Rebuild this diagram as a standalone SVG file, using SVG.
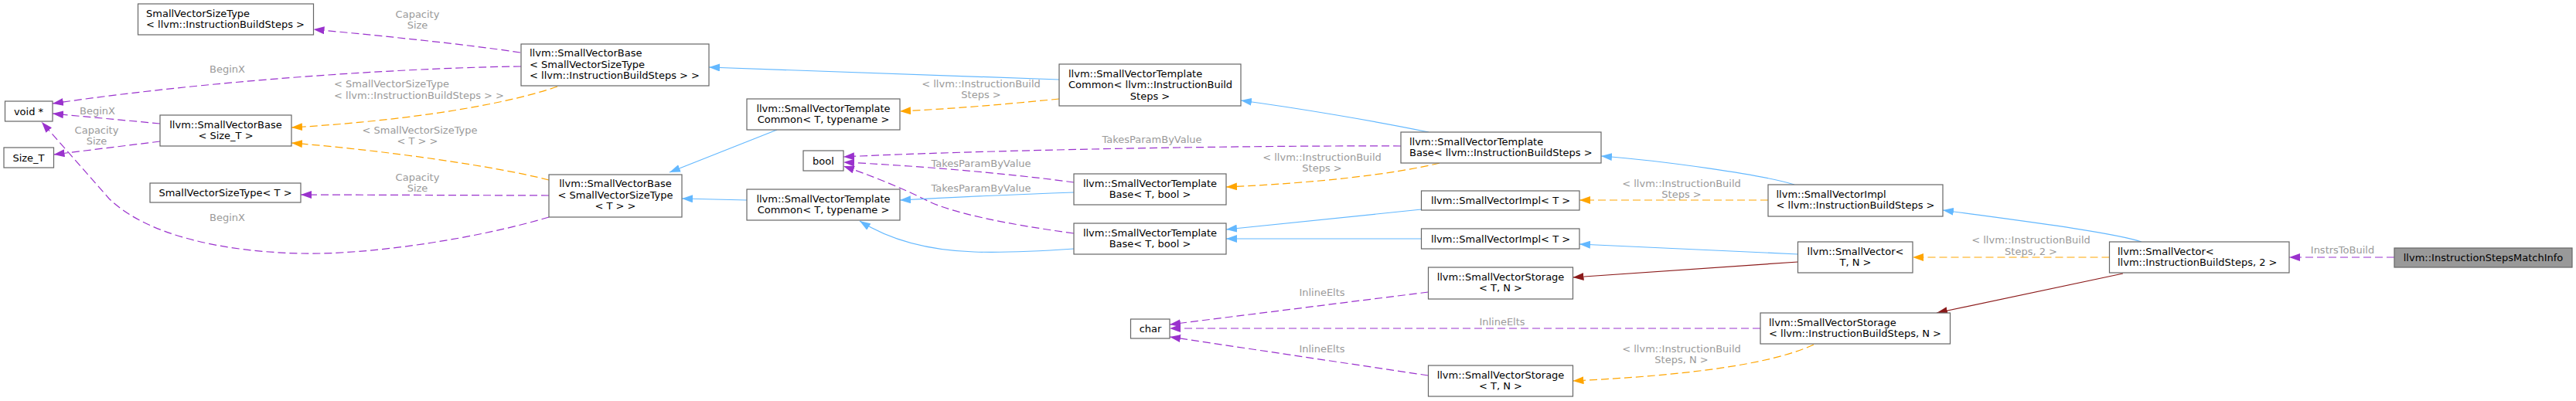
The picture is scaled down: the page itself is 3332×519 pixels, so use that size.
<svg xmlns="http://www.w3.org/2000/svg" width="3332" height="519" viewBox="0 0 3332 519">
<style>
.node rect{fill:#ffffff;stroke:#666666;stroke-width:1.2}
.node text{font-family:"DejaVu Sans",sans-serif;font-size:13px;fill:#000000}
#n_match rect{fill:#999999}
.c{text-anchor:middle}
.lbl{font-family:"DejaVu Sans",sans-serif;font-size:13px;fill:#9a9a9a;text-anchor:middle}
.lbl.l{text-anchor:start}
.e{fill:none;stroke-width:1.2}
.b{stroke:#63b8ff}
.o{stroke:#ffa500;stroke-dasharray:10,5}
.p{stroke:#9a32cd;stroke-dasharray:10,5}
.r{stroke:#8b1a1a}
.b{marker-end:url(#ab)}
.o{marker-end:url(#ao)}
.p{marker-end:url(#ap)}
.r{marker-end:url(#ar)}
</style>
<defs>
<marker id="ab" markerUnits="userSpaceOnUse" markerWidth="14" markerHeight="10" refX="14" refY="5" orient="auto" viewBox="0 0 14 10"><path d="M0,0L14,5L0,10z" fill="#63b8ff"/></marker>
<marker id="ao" markerUnits="userSpaceOnUse" markerWidth="14" markerHeight="10" refX="14" refY="5" orient="auto" viewBox="0 0 14 10"><path d="M0,0L14,5L0,10z" fill="#ffa500"/></marker>
<marker id="ap" markerUnits="userSpaceOnUse" markerWidth="14" markerHeight="10" refX="14" refY="5" orient="auto" viewBox="0 0 14 10"><path d="M0,0L14,5L0,10z" fill="#9a32cd"/></marker>
<marker id="ar" markerUnits="userSpaceOnUse" markerWidth="14" markerHeight="10" refX="14" refY="5" orient="auto" viewBox="0 0 14 10"><path d="M0,0L14,5L0,10z" fill="#8b1a1a"/></marker>
</defs>
<rect x="0" y="0" width="3332" height="519" fill="#ffffff"/>

<g id="edges">
<path class="e p" d="M3097,333 L2961,333"/>
<path class="e b" d="M2770,313 C2730,300 2600,284 2513,272"/>
<path class="e o" d="M2728.5,333 L2474,333"/>
<path class="e r" d="M2746,354 L2505,405"/>
<path class="e b" d="M2321,239 C2280,226 2150,208 2071,202"/>
<path class="e o" d="M2287,259 L2043,259"/>
<path class="e b" d="M2325.5,329 L2043,316"/>
<path class="e r" d="M2325.5,339 L2034.5,359"/>
<path class="e p" d="M2277,425 L1513,425"/>
<path class="e o" d="M2346,446 C2290,472 2180,486 2034.5,493"/>
<path class="e p" d="M1847.5,378 L1513,420"/>
<path class="e p" d="M1847.5,486 L1513,436"/>
<path class="e b" d="M1838.5,271 L1586,297"/>
<path class="e b" d="M1838.5,309 L1586,309"/>
<path class="e o" d="M1862,211 C1800,226 1700,237 1586,242"/>
<path class="e p" d="M1812,189 C1600,188 1250,195 1091,203"/>
<path class="e b" d="M1848,171 C1780,157 1680,140 1605,130"/>
<path class="e p" d="M1389,236 C1300,224 1180,214 1091,210"/>
<path class="e p" d="M1389,302 C1300,290 1230,275 1200,260 C1160,240 1120,225 1091,215"/>
<path class="e b" d="M1389,249 C1300,252 1220,256 1164,259"/>
<path class="e b" d="M1389,322 C1330,326 1290,327 1260,326 C1200,324 1150,310 1112,286"/>
<path class="e o" d="M1370,128 C1300,135 1230,141 1164,144"/>
<path class="e b" d="M1370,103 L917,87"/>
<path class="e b" d="M1005,168 L866,223"/>
<path class="e b" d="M966,259 L882,257"/>
<path class="e p" d="M673,68 C600,57 500,47 405.5,38"/>
<path class="e o" d="M721,112 C640,140 500,158 377,165"/>
<path class="e p" d="M710,253 L389,252"/>
<path class="e o" d="M710,233 C640,215 500,195 377,185"/>
<path class="e p" d="M674,86 C560,87 300,100 68,134"/>
<path class="e p" d="M710,281 C620,308 480,330 390,328 C290,326 190,305 141,257 L54,158"/>
<path class="e p" d="M207,160 L68,147"/>
<path class="e p" d="M207,183 L69.5,200"/>

<text class="lbl" x="3030" y="328">InstrsToBuild</text>
<text class="lbl" x="2627" y="315">&lt; llvm::InstructionBuild</text>
<text class="lbl" x="2627" y="329.5">Steps, 2 &gt;</text>
<text class="lbl" x="2175" y="241.5">&lt; llvm::InstructionBuild</text>
<text class="lbl" x="2175" y="256">Steps &gt;</text>
<text class="lbl" x="1943" y="420.5">InlineElts</text>
<text class="lbl" x="2175" y="455.5">&lt; llvm::InstructionBuild</text>
<text class="lbl" x="2175" y="469.5">Steps, N &gt;</text>
<text class="lbl" x="1710" y="382.5">InlineElts</text>
<text class="lbl" x="1710" y="455.5">InlineElts</text>
<text class="lbl" x="1710" y="207.5">&lt; llvm::InstructionBuild</text>
<text class="lbl" x="1710" y="221.5">Steps &gt;</text>
<text class="lbl" x="1490" y="184.5">TakesParamByValue</text>
<text class="lbl" x="1269" y="215.5">TakesParamByValue</text>
<text class="lbl" x="1269" y="247.5">TakesParamByValue</text>
<text class="lbl" x="1269" y="112.5">&lt; llvm::InstructionBuild</text>
<text class="lbl" x="1269" y="127">Steps &gt;</text>
<text class="lbl" x="540" y="22.5">Capacity</text>
<text class="lbl" x="540" y="36.5">Size</text>
<text class="lbl l" x="432" y="112.5">&lt; SmallVectorSizeType</text>
<text class="lbl l" x="432" y="127.5">&lt; llvm::InstructionBuildSteps &gt; &gt;</text>
<text class="lbl" x="540" y="233.5">Capacity</text>
<text class="lbl" x="540" y="247.5">Size</text>
<text class="lbl" x="543" y="172.5">&lt; SmallVectorSizeType</text>
<text class="lbl" x="540" y="187">&lt; T &gt; &gt;</text>
<text class="lbl" x="294" y="93.5">BeginX</text>
<text class="lbl" x="294" y="285.5">BeginX</text>
<text class="lbl" x="126" y="147.5">BeginX</text>
<text class="lbl" x="125" y="172.5">Capacity</text>
<text class="lbl" x="125" y="186.5">Size</text>
</g>

<g id="n_svst_ibs" class="node"><rect x="178.5" y="5" width="227" height="40"/><text x="189" y="21.5">SmallVectorSizeType</text><text x="189" y="36">&lt; llvm::InstructionBuildSteps &gt;</text></g>
<g id="n_voidp" class="node"><rect x="6.5" y="131" width="61.5" height="26"/><text class="c" x="37" y="148.5">void *</text></g>
<g id="n_sizet" class="node"><rect x="5" y="191" width="64.5" height="26"/><text class="c" x="37" y="208.5">Size_T</text></g>
<g id="n_svb_sizet" class="node"><rect x="207" y="149" width="170" height="40"/><text class="c" x="292" y="165.5">llvm::SmallVectorBase</text><text class="c" x="292" y="180">&lt; Size_T &gt;</text></g>
<g id="n_svst_t" class="node"><rect x="194" y="237" width="195" height="25"/><text class="c" x="291.5" y="254">SmallVectorSizeType&lt; T &gt;</text></g>
<g id="n_svb_svst_ibs" class="node"><rect x="674" y="57" width="243" height="54"/><text x="685" y="73">llvm::SmallVectorBase</text><text x="685" y="87.5">&lt; SmallVectorSizeType</text><text x="685" y="102">&lt; llvm::InstructionBuildSteps &gt; &gt;</text></g>
<g id="n_svb_svst_t" class="node"><rect x="710" y="226" width="172" height="55"/><text class="c" x="796" y="242">llvm::SmallVectorBase</text><text class="c" x="796" y="256.5">&lt; SmallVectorSizeType</text><text class="c" x="796" y="271">&lt; T &gt; &gt;</text></g>
<g id="n_svtc_t1" class="node"><rect x="966" y="128" width="198" height="40"/><text class="c" x="1065" y="144.5">llvm::SmallVectorTemplate</text><text class="c" x="1065" y="159">Common&lt; T, typename &gt;</text></g>
<g id="n_svtc_t2" class="node"><rect x="966" y="245" width="198" height="40"/><text class="c" x="1065" y="261.5">llvm::SmallVectorTemplate</text><text class="c" x="1065" y="276">Common&lt; T, typename &gt;</text></g>
<g id="n_bool" class="node"><rect x="1039" y="195" width="52" height="26"/><text class="c" x="1065" y="212.5">bool</text></g>
<g id="n_svtc_ibs" class="node"><rect x="1370" y="83" width="235" height="54"/><text x="1382" y="99.5">llvm::SmallVectorTemplate</text><text x="1382" y="114">Common&lt; llvm::InstructionBuild</text><text class="c" x="1487.5" y="128.5">Steps &gt;</text></g>
<g id="n_svtb_t1" class="node"><rect x="1389" y="225" width="197" height="40"/><text class="c" x="1487.5" y="241.5">llvm::SmallVectorTemplate</text><text class="c" x="1487.5" y="256">Base&lt; T, bool &gt;</text></g>
<g id="n_svtb_t2" class="node"><rect x="1389" y="289" width="197" height="40"/><text class="c" x="1487.5" y="305.5">llvm::SmallVectorTemplate</text><text class="c" x="1487.5" y="320">Base&lt; T, bool &gt;</text></g>
<g id="n_char" class="node"><rect x="1462.5" y="413" width="50.5" height="25"/><text class="c" x="1488" y="430">char</text></g>
<g id="n_svtb_ibs" class="node"><rect x="1812" y="171" width="259" height="40"/><text x="1823" y="187.5">llvm::SmallVectorTemplate</text><text x="1823" y="202">Base&lt; llvm::InstructionBuildSteps &gt;</text></g>
<g id="n_svimpl_t1" class="node"><rect x="1838.5" y="247" width="204.5" height="25"/><text class="c" x="1941" y="264">llvm::SmallVectorImpl&lt; T &gt;</text></g>
<g id="n_svimpl_t2" class="node"><rect x="1838.5" y="296" width="204.5" height="26"/><text class="c" x="1941" y="313.5">llvm::SmallVectorImpl&lt; T &gt;</text></g>
<g id="n_svstor_t1" class="node"><rect x="1847.5" y="346" width="187" height="41"/><text class="c" x="1941" y="362.5">llvm::SmallVectorStorage</text><text class="c" x="1941" y="377">&lt; T, N &gt;</text></g>
<g id="n_svstor_t2" class="node"><rect x="1847.5" y="473" width="187" height="40"/><text class="c" x="1941" y="489.5">llvm::SmallVectorStorage</text><text class="c" x="1941" y="504">&lt; T, N &gt;</text></g>
<g id="n_svimpl_ibs" class="node"><rect x="2287" y="239" width="226" height="41"/><text x="2297.5" y="255.5">llvm::SmallVectorImpl</text><text x="2297.5" y="270">&lt; llvm::InstructionBuildSteps &gt;</text></g>
<g id="n_sv_tn" class="node"><rect x="2325.5" y="313" width="148.5" height="40"/><text class="c" x="2400" y="329.5">llvm::SmallVector&lt;</text><text class="c" x="2400" y="344">T, N &gt;</text></g>
<g id="n_svstor_ibs" class="node"><rect x="2277" y="405" width="245.5" height="40"/><text x="2288" y="421.5">llvm::SmallVectorStorage</text><text x="2288" y="436">&lt; llvm::InstructionBuildSteps, N &gt;</text></g>
<g id="n_sv_ibs" class="node"><rect x="2728.5" y="313" width="232.5" height="40"/><text x="2739" y="329.5">llvm::SmallVector&lt;</text><text x="2739" y="344">llvm::InstructionBuildSteps, 2 &gt;</text></g>
<g id="n_match" class="node"><rect x="3097" y="321" width="230" height="25"/><text class="c" x="3212" y="338">llvm::InstructionStepsMatchInfo</text></g>
</svg>
